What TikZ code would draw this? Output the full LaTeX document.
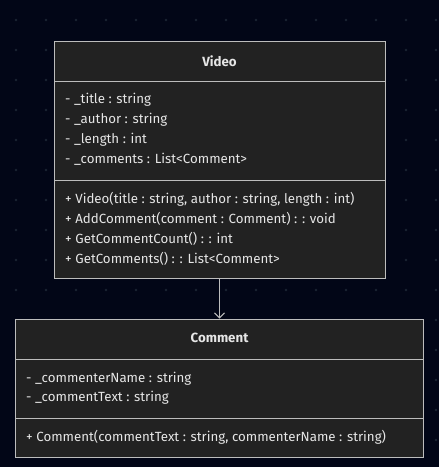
\documentclass[tikz,border=0pt]{standalone}
\usepackage{fontspec}
\setmainfont{Fira Sans}
\usetikzlibrary{arrows.meta}
\definecolor{bg}{HTML}{020617}
\definecolor{dotc}{HTML}{1B2433}
\definecolor{boxfill}{HTML}{222222}
\definecolor{boxline}{HTML}{BDBDBD}
\definecolor{txt}{HTML}{E6E6E6}
\tikzset{
  umlbox/.style={draw=boxline, fill=boxfill, line width=1pt, minimum width=#1, inner sep=0pt},
  sepline/.style={draw=boxline, line width=1pt},
  member/.style={anchor=west, text=txt, font=\fontsize{13.3}{15}\selectfont, inner sep=0pt},
  title/.style={text=txt, font=\fontsize{13.3}{15}\selectfont\bfseries, inner sep=0pt},
  arr/.style={draw=boxline, line width=1pt, -{Straight Barb[length=5pt,width=10pt]}}
}
\begin{document}
\begin{tikzpicture}[x=1pt,y=-1pt]
\fill[bg] (0,0) rectangle (439,467);
\useasboundingbox (0,0) rectangle (439,467);
\foreach \i in {0,...,14} {\foreach \j in {0,...,15} {\fill[dotc] (16+30*\i,20+30*\j) circle (1.4);}}
% Video
\node[umlbox=331pt, minimum height=237pt] (video) at (219.5,159.5) {};
\draw[sepline] (54,81) -- (385,81);
\draw[sepline] (54,180) -- (385,180);
\node[title] (vt) at (219.5,61) {Video};
\node[member] (v1) at (65,100) {- \_title : string};
\node[member] (v2) at (65,120) {- \_author : string};
\node[member] (v3) at (65,140) {- \_length : int};
\node[member] (v4) at (65,159) {- \_comments : List<Comment>};
\node[member] (v5) at (65,199) {+ Video(title : string, author : string, length : int)};
\node[member] (v6) at (65,219) {+ AddComment(comment : Comment) : : void};
\node[member] (v7) at (65,239) {+ GetCommentCount() : : int};
\node[member] (v8) at (65,259) {+ GetComments() : : List<Comment>};
% Comment
\node[umlbox=408pt, minimum height=138pt] (comment) at (219.5,388) {};
\draw[sepline] (15.5,359) -- (423.5,359);
\draw[sepline] (15.5,418) -- (423.5,418);
\node[title] (ct) at (219.5,338) {Comment};
\node[member] (c1) at (26,379) {- \_commenterName : string};
\node[member] (c2) at (26,398) {- \_commentText : string};
\node[member] (c3) at (26,437) {+ Comment(commentText : string, commenterName : string)};
\draw[arr] (video.south) -- (comment.north);
\end{tikzpicture}
\end{document}
